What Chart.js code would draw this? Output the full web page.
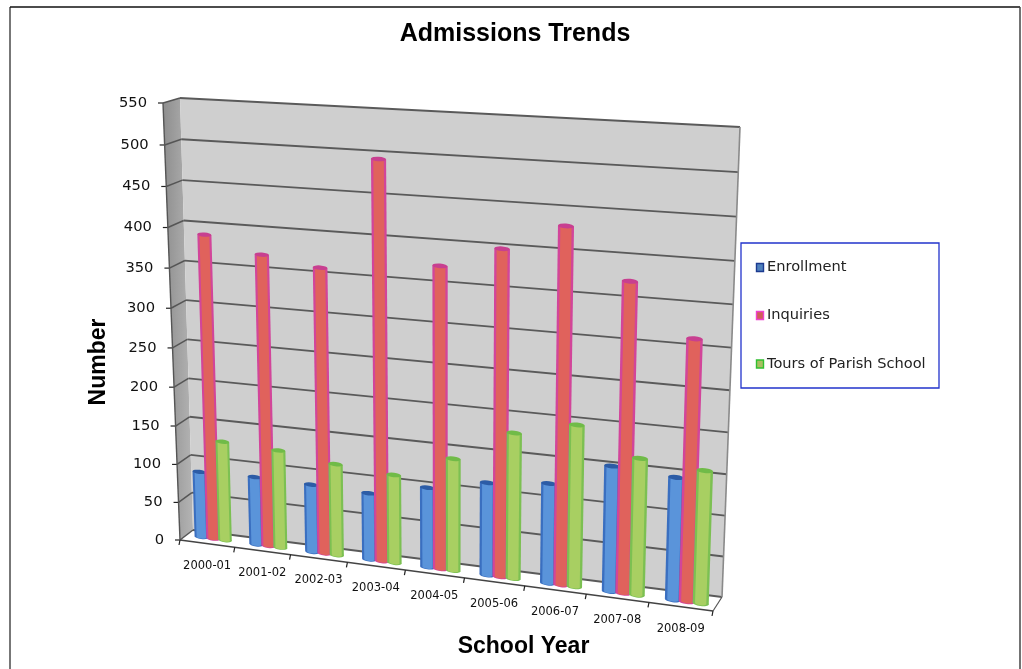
<!DOCTYPE html>
<html>
<head>
<meta charset="utf-8">
<title>Admissions Trends</title>
<script src="https://cdn.jsdelivr.net/npm/chart.js@4"></script>
<style>
  html, body { margin: 0; padding: 0; background: #fff; }
  canvas { display: block; }
</style>
</head>
<body>
<canvas id="chart" width="1022" height="669"></canvas>
<script>
const schoolYears = ['2000-01', '2001-02', '2002-03', '2003-04', '2004-05', '2005-06', '2006-07', '2007-08', '2008-09'];
const enrollment = [86, 88, 87, 85, 101, 116, 124, 154, 149];
const inquiries = [389, 370, 360, 495, 374, 400, 432, 374, 314];
const tours = [129, 126, 117, 112, 141, 181, 199, 167, 161];
const yTicks = { min: 0, max: 550, step: 50 };

// screen corners of the 3d box: top left, top right, bottom right, bottom left
const backWall = [[180, 98], [740, 127], [722, 597], [193, 530]];
const frontPlane = [[163, 103], [731, 136], [713, 611], [180, 540]];
const barPlane = [[172, 100.5], [735, 131.5], [719, 606], [186, 535]];

function homography(q) {
  const [[x0, y0], [x1, y1], [x2, y2], [x3, y3]] = q;
  const dx1 = x1 - x2, dx2 = x3 - x2, sx = x0 - x1 + x2 - x3;
  const dy1 = y1 - y2, dy2 = y3 - y2, sy = y0 - y1 + y2 - y3;
  const den = dx1 * dy2 - dx2 * dy1;
  const g = (sx * dy2 - dx2 * sy) / den;
  const h = (dx1 * sy - sx * dy1) / den;
  const a = x1 - x0 + g * x1, b = x3 - x0 + h * x3;
  const d = y1 - y0 + g * y1, e = y3 - y0 + h * y3;
  return (u, v) => {
    const w = g * u + h * v + 1;
    return [(a * u + b * v + x0) / w, (d * u + e * v + y0) / w];
  };
}

const toBack = homography(backWall);
const toFront = homography(frontPlane);
const toBar = homography(barPlane);

function poly(ctx, pts, fill, stroke, lw) {
  ctx.beginPath();
  pts.forEach((p, i) => (i ? ctx.lineTo(p[0], p[1]) : ctx.moveTo(p[0], p[1])));
  ctx.closePath();
  if (fill) { ctx.fillStyle = fill; ctx.fill(); }
  if (stroke) { ctx.strokeStyle = stroke; ctx.lineWidth = lw || 1; ctx.stroke(); }
}

function line(ctx, a, b, color, lw) {
  ctx.beginPath();
  ctx.moveTo(a[0], a[1]);
  ctx.lineTo(b[0], b[1]);
  ctx.strokeStyle = color;
  ctx.lineWidth = lw;
  ctx.stroke();
}

function drawCylinder(ctx, el, area, look) {
  const uv = (x, y) => toBar((x - area.left) / area.width, (y - area.top) / area.height);
  const inset = el.width * 0.15;
  const tl = uv(el.x - el.width / 2, el.y), tr = uv(el.x + el.width / 2, el.y);
  const bl = uv(el.x - el.width / 2, el.base), br = uv(el.x + el.width / 2, el.base);
  const til = uv(el.x - el.width / 2 + inset, el.y), tir = uv(el.x + el.width / 2 - inset, el.y);
  const bil = uv(el.x - el.width / 2 + inset, el.base), bir = uv(el.x + el.width / 2 - inset, el.base);
  const endCap = (a, b, fill) => {
    const rx = Math.hypot(b[0] - a[0], b[1] - a[1]) / 2;
    ctx.beginPath();
    ctx.ellipse((a[0] + b[0]) / 2, (a[1] + b[1]) / 2, rx, rx * 0.3, Math.atan2(b[1] - a[1], b[0] - a[0]), 0, Math.PI * 2);
    ctx.fillStyle = fill;
    ctx.fill();
  };
  endCap(bl, br, look.edge);
  poly(ctx, [tl, tr, br, bl], look.edge);
  poly(ctx, [til, tir, bir, bil], look.body);
  endCap(bil, bir, look.body);
  endCap(tl, tr, look.cap);
}

const looks = [
  { body: '#5a94da', edge: '#3a6fc0', cap: '#2c5ca6', key: '#4f81bd', keyLine: '#1c3a90' },
  { body: '#e0625c', edge: '#d2459a', cap: '#c83f90', key: '#cf5f58', keyLine: '#f040d0' },
  { body: '#a8cf62', edge: '#7cc052', cap: '#70bb48', key: '#a9bf62', keyLine: '#30c030' }
];

const box3d = {
  id: 'box3d',
  beforeDatasetsDraw(chart) {
    const { ctx, chartArea: area, scales: { x: xs, y: ys } } = chart;
    const vOf = (val) => (ys.getPixelForValue(val) - area.top) / area.height;

    ctx.save();
    // outer frame
    line(ctx, [10, 669], [10, 7], '#777', 2);
    line(ctx, [10, 7], [1020, 7], '#111', 1.5);
    line(ctx, [1020, 7], [1020, 669], '#444', 1.5);

    // the source is a soft jpeg, so the box and bars get a slight blur
    ctx.filter = 'blur(0.5px)';

    // walls and floor
    const side = ctx.createLinearGradient(163, 0, 193, 0);
    side.addColorStop(0, '#8e8e8e');
    side.addColorStop(1, '#b4b4b4');
    poly(ctx, [frontPlane[0], backWall[0], backWall[3], frontPlane[3]], side);
    poly(ctx, backWall, '#cfcfcf');
    poly(ctx, [backWall[3], backWall[2], frontPlane[2], frontPlane[3]], '#ffffff');

    ys.ticks.forEach((t) => {
      const v = vOf(t.value);
      const f = toFront(0, v), b = toBack(0, v);
      line(ctx, b, toBack(1, v), '#5a5a5a', 1.8);
      line(ctx, f, b, '#555', 1.5);
      line(ctx, [f[0] - 5, f[1]], f, '#222', 1.2);
    });
    line(ctx, backWall[1], backWall[2], '#8a8a8a', 1.6);
    line(ctx, frontPlane[0], frontPlane[3], '#555', 1.4);
    line(ctx, backWall[2], frontPlane[2], '#555', 1.2);
    line(ctx, frontPlane[3], frontPlane[2], '#444', 1.6);

    // category ticks on the floor edge
    for (let i = 0; i <= schoolYears.length; i++) {
      const p = toFront(i / schoolYears.length, 1);
      line(ctx, p, [p[0] - 1, p[1] + 5], '#222', 1.2);
    }

    chart.data.datasets.forEach((ds, i) => {
      chart.getDatasetMeta(i).data.forEach((el) => drawCylinder(ctx, el, area, looks[i]));
    });
    ctx.filter = 'none';

    // value labels
    ctx.fillStyle = '#111';
    ctx.font = '14.7px "DejaVu Sans"';
    ctx.textAlign = 'right';
    ctx.textBaseline = 'middle';
    ys.ticks.forEach((t) => {
      const f = toFront(0, vOf(t.value));
      ctx.fillText(t.label, f[0] - 16, f[1]);
    });

    // category labels
    ctx.font = '11.5px "DejaVu Sans"';
    ctx.textAlign = 'center';
    schoolYears.forEach((name, i) => {
      const p = toBar((xs.getPixelForValue(i) - area.left) / area.width, 1);
      ctx.fillText(name, p[0] - 6, p[1] + 27);
    });

    // axis titles
    ctx.fillStyle = '#000';
    ctx.font = 'bold 23px "Liberation Sans"';
    ctx.fillText('School Year', 523.5, 647);
    ctx.save();
    ctx.translate(99, 362);
    ctx.rotate(-Math.PI / 2);
    ctx.fillText('Number', 0, 0);
    ctx.restore();

    // legend box
    poly(ctx, [[741, 243], [939, 243], [939, 388], [741, 388]], '#fff', '#2233cc', 1.3);
    ctx.font = '14.6px "DejaVu Sans"';
    ctx.textAlign = 'left';
    chart.data.datasets.forEach((ds, i) => {
      const y = [267.5, 315.5, 364][i];
      poly(ctx, [[756.5, y - 4], [763.5, y - 4], [763.5, y + 4], [756.5, y + 4]], looks[i].key, looks[i].keyLine, 1.4);
      ctx.fillStyle = '#222';
      ctx.fillText(ds.label, 767, y);
    });
    ctx.restore();
    return false;
  }
};

new Chart(document.getElementById('chart'), {
  type: 'bar',
  data: {
    labels: schoolYears,
    datasets: [
      { label: 'Enrollment', data: enrollment, backgroundColor: '#5a94da' },
      { label: 'Inquiries', data: inquiries, backgroundColor: '#e0625c' },
      { label: 'Tours of Parish School', data: tours, backgroundColor: '#a8cf62' }
    ]
  },
  options: {
    responsive: false,
    animation: false,
    layout: { padding: { left: 8, right: 0, top: 0, bottom: 0 } },
    datasets: { bar: { categoryPercentage: 0.65, barPercentage: 1.15 } },
    plugins: {
      legend: { display: false },
      tooltip: { enabled: false },
      title: {
        display: true,
        text: 'Admissions Trends',
        color: '#000',
        font: { family: '"Liberation Sans"', size: 25, weight: 'bold' },
        padding: { top: 19, bottom: 10 }
      }
    },
    scales: {
      x: { display: false },
      y: { display: false, min: yTicks.min, max: yTicks.max, ticks: { stepSize: yTicks.step } }
    }
  },
  plugins: [box3d]
});
</script>
</body>
</html>
